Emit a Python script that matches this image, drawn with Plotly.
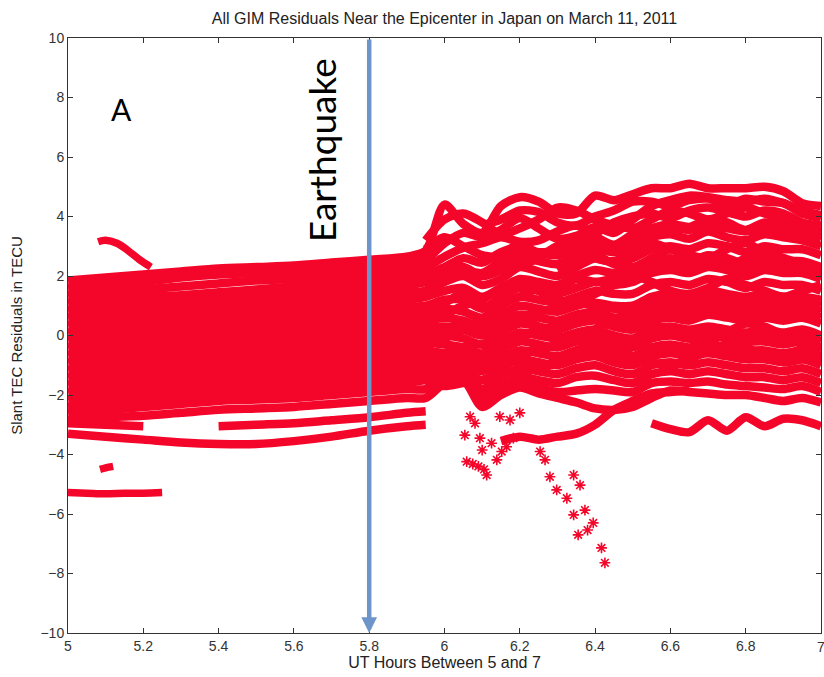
import plotly.graph_objects as go

# ---------------- data ----------------
hours = [5.0, 5.1, 5.2, 5.3, 5.4, 5.5, 5.6, 5.7, 5.8, 5.9,
         5.95, 6.0, 6.05, 6.1, 6.15, 6.2, 6.25, 6.3, 6.35, 6.4, 6.45,
         6.5, 6.55, 6.6, 6.65, 6.7, 6.75, 6.8, 6.85, 6.9, 6.95, 7.0]

N = None
trk01 = [1.85, 1.95, 2.05, 2.15, 2.25, 2.3, 2.35, 2.45, 2.55, 2.65,
         2.85, 4.4, 3.75, 3.45, 4.35, 4.65, 4.5, 4.1, 4.1, 4.7, 4.55, 4.75, 4.95, 4.95, 5.1, 4.95, 4.95, 4.95, 5.0, 4.85, 4.45, 4.35]
trk02 = [1.6, 1.7, 1.8, 1.95, 2.05, 2.1, 2.15, 2.25, 2.35, 2.45,
         2.55, 3.1, 3.45, 3.3, 3.55, 3.95, 3.6, 3.25, 3.35, 3.65, 3.45, 3.9, 4.35, 4.55, 4.7, 4.65, 4.55, 4.5, 4.6, 4.45, 4.2, 4.05]
trk03 = [1.35, 1.45, 1.55, 1.65, 1.75, 1.85, 1.9, 2.0, 2.1, 2.2,
         2.3, 2.65, 2.95, 3.1, 3.3, 3.15, 3.2, 3.5, 3.7, 3.45, 3.8, 4.0, 4.1, 3.95, 4.2, 4.3, 4.15, 4.0, 4.2, 4.1, 3.8, 3.7]
trk04 = [1.1, 1.2, 1.3, 1.35, 1.45, 1.55, 1.65, 1.75, 1.85, 1.95,
         2.05, 2.3, 2.6, 2.45, 2.8, 3.0, 2.8, 2.9, 3.2, 3.3, 3.05, 3.4, 3.6, 3.75, 3.65, 3.9, 3.8, 3.55, 3.8, 3.7, 3.5, 3.3]
trk05 = [0.85, 0.95, 1.1, 1.2, 1.25, 1.3, 1.4, 1.5, 1.6, 1.7,
         1.8, 2.1, 2.3, 2.0, 2.2, 2.6, 2.5, 2.4, 2.7, 2.9, 2.8, 3.0, 3.3, 3.4, 3.25, 3.5, 3.3, 3.2, 3.4, 3.3, 3.2, 3.0]
trk06 = [0.6, 0.75, 0.85, 0.95, 1.05, 1.1, 1.15, 1.25, 1.35, 1.45,
         1.5, 1.8, 2.0, 1.7, 1.9, 2.3, 2.15, 2.0, 2.3, 2.6, 2.45, 2.6, 2.9, 3.0, 2.9, 3.1, 3.0, 2.8, 3.0, 2.9, 2.9, 2.7]
trk07 = [0.35, 0.5, 0.6, 0.7, 0.8, 0.85, 0.9, 1.0, 1.1, 1.2,
         1.3, 1.5, 1.6, 1.3, 1.6, 1.9, 1.8, 1.7, 2.0, 2.2, 2.1, 2.2, 2.5, 2.6, 2.5, 2.7, 2.6, 2.4, 2.6, 2.5, 2.5, 2.3]
trk08 = [0.1, 0.25, 0.35, 0.45, 0.55, 0.6, 0.65, 0.75, 0.85, 0.95,
         1.0, 1.2, 1.2, 0.9, 1.3, 1.6, 1.5, 1.4, 1.6, 1.8, 1.7, 1.8, 2.1, 2.2, 2.1, 2.3, 2.2, 2.0, 2.2, 2.1, 2.1, 1.9]
trk09 = [-0.15, 0.0, 0.1, 0.2, 0.3, 0.35, 0.4, 0.5, 0.6, 0.7,
         0.75, 0.9, 0.8, 0.6, 1.0, 1.3, 1.2, 1.1, 1.3, 1.5, 1.4, 1.4, 1.7, 1.8, 1.7, 1.9, 1.8, 1.6, 1.8, 1.7, 1.7, 1.5]
trk10 = [-0.4, -0.25, -0.15, -0.05, 0.05, 0.1, 0.15, 0.25, 0.35, 0.45,
         0.5, 0.6, 0.5, 0.3, 0.7, 1.0, 0.9, 0.8, 1.0, 1.1, 1.0, 1.0, 1.3, 1.4, 1.3, 1.5, 1.4, 1.3, 1.4, 1.3, 1.3, 1.2]
trk11 = [-0.65, -0.5, -0.4, -0.3, -0.2, -0.15, -0.1, 0.0, 0.1, 0.2,
         0.25, 0.3, 0.2, 0.0, 0.4, 0.7, 0.6, 0.5, 0.7, 0.8, 0.6, 0.6, 0.9, 1.0, 0.9, 1.1, 1.0, 0.9, 1.0, 0.9, 1.0, 0.8]
trk12 = [-0.9, -0.75, -0.65, -0.55, -0.45, -0.4, -0.35, -0.25, -0.15, -0.05,
         0.0, 0.0, -0.1, -0.3, 0.1, 0.4, 0.3, 0.2, 0.4, 0.5, 0.3, 0.2, 0.5, 0.6, 0.5, 0.7, 0.6, 0.5, 0.6, 0.5, 0.6, 0.4]
trk13 = [-1.15, -1.0, -0.9, -0.8, -0.7, -0.65, -0.6, -0.5, -0.4, -0.3,
         -0.25, -0.3, -0.4, -0.6, -0.2, 0.1, 0.0, -0.1, 0.1, 0.2, 0.0, -0.1, 0.2, 0.3, 0.2, 0.3, 0.2, 0.1, 0.2, 0.1, 0.2, 0.0]
trk14 = [-1.4, -1.25, -1.15, -1.05, -0.95, -0.9, -0.85, -0.75, -0.65, -0.55,
         -0.5, -0.6, -0.7, -0.9, -0.5, -0.2, -0.3, -0.4, -0.2, -0.1, -0.3, -0.4, -0.1, 0.0, -0.1, 0.0, -0.1, -0.2, -0.2, -0.3, -0.2, -0.4]
trk15 = [-1.65, -1.5, -1.4, -1.3, -1.2, -1.15, -1.1, -1.0, -0.9, -0.8,
         -0.75, -0.9, -1.0, -1.2, -0.8, -0.5, -0.6, -0.7, -0.5, -0.4, -0.6, -0.7, -0.4, -0.3, -0.4, -0.3, -0.4, -0.5, -0.5, -0.6, -0.5, -0.7]
trk16 = [-1.9, -1.75, -1.65, -1.55, -1.45, -1.4, -1.35, -1.25, -1.15, -1.05,
         -1.0, -1.1, -1.2, -1.5, -1.1, -0.8, -0.9, -1.0, -0.8, -0.7, -0.9, -1.0, -0.7, -0.6, -0.7, -0.6, -0.7, -0.8, -0.8, -0.9, -0.8, -1.0]
trk17 = [-2.15, -2.0, -1.9, -1.8, -1.7, -1.65, -1.6, -1.5, -1.4, -1.3,
         -1.25, -1.2, -1.3, -1.8, -1.4, -1.1, -1.2, -1.3, -1.1, -1.0, -1.2, -1.3, -1.0, -0.9, -1.0, -0.9, -1.0, -1.1, -1.1, -1.2, -1.1, -1.3]
trk18 = [-2.4, -2.25, -2.15, -2.05, -1.95, -1.9, -1.85, -1.75, -1.65, -1.55,
         -1.5, -1.3, -1.4, -2.0, -1.7, -1.4, -1.5, -1.6, -1.4, -1.35, -1.5, -1.6, -1.3, -1.2, -1.3, -1.2, -1.3, -1.4, -1.4, -1.5, -1.4, -1.6]
trk19 = [-2.6, -2.5, -2.4, -2.3, -2.2, -2.15, -2.1, -2.0, -1.9, -1.8,
         -1.8, -1.4, -1.35, -2.2, -1.9, -1.6, -1.75, -1.9, -1.85, -1.8, -1.85, -1.9, -1.6, -1.55, -1.6, -1.55, -1.65, -1.7, -1.75, -1.8, -1.7, -1.9]
trk20 = [-2.85, -2.75, -2.7, -2.6, -2.5, -2.45, -2.4, -2.3, -2.2, -2.1,
         -2.1, -1.6, -1.5, -2.4, -2.0, -1.75, -1.95, -2.1, -2.25, -2.45, -2.5, -2.4, -2.1, -1.85, -1.9, -1.95, -2.0, -2.0, -2.1, -2.2, -2.1, -2.25]
trk21 = [-2.95, -3.0, -3.05, N, N, N, N, N, N, N,
         N, N, N, N, N, N, N, N, N, N, N, N, N, N, N, N, N, N, N, N, N, N]
trk22 = [N, N, N, N, -3.05, -3.0, -2.95, -2.85, -2.75, -2.6,
         -2.55, N, N, N, N, N, N, N, N, N, N, N, N, N, N, N, N, N, N, N, N, N]
trk23 = [-3.3, -3.4, -3.5, -3.6, -3.65, -3.65, -3.55, -3.4, -3.2, -3.05,
         -3.0, N, N, N, N, N, N, N, N, N, N, N, N, N, N, N, N, N, N, N, N, N]
trk24 = [N, N, N, N, N, N, N, N, N, N,
         N, N, N, 3.7, 3.9, 4.2, 4.15, 3.8, 3.7, 4.0, 4.2, 4.5, 4.5, 4.35, 4.55, 4.6, 4.4, 4.6, 4.5, 4.45, 4.1, 3.95]
trk25 = [N, N, N, N, N, N, N, N, N, N,
         N, N, N, N, -3.55, -3.4, -3.5, -3.4, -3.3, -3.0, -2.5, -2.2, -1.95, -1.9, -1.85, N, N, N, N, N, N, N]
trk26 = [N, N, N, N, N, N, N, N, N, N,
         N, N, N, N, N, N, N, N, N, N, N, N, -2.95, -3.15, -3.25, -2.85, -3.2, -2.75, -3.05, -2.8, -2.85, -3.05]
trk27 = [N, N, N, N, N, N, N, N, N, N,
         1.6, 2.0, 2.2, 2.1, 2.5, 2.8, 2.75, 2.7, 2.95, 3.1, 3.0, 3.2, 3.5, 3.6, 3.55, 3.7, 3.6, 3.5, 3.6, 3.5, 3.4, 3.25]
trk28 = [N, N, N, N, N, N, N, N, N, N,
         0.9, 1.1, 1.4, 1.0, 1.1, 1.3, 1.6, 1.6, 1.9, 1.8, 1.9, 2.0, 2.3, 2.4, 2.3, 2.5, 2.45, 2.2, 2.4, 2.3, 2.3, 2.1]
trk29 = [N, N, N, N, N, N, N, N, N, N,
         0.0, 0.2, 0.4, 0.1, 0.3, 0.5, 0.8, 0.9, 1.1, 1.0, 0.9, 0.8, 1.1, 1.2, 1.1, 1.3, 1.2, 1.1, 1.2, 1.1, 1.15, 1.0]
trk30 = [N, N, N, N, N, N, N, N, N, N,
         -0.8, -0.6, -0.5, -0.7, -0.4, -0.1, 0.2, 0.3, 0.6, 0.6, 0.4, 0.35, 0.7, 0.8, 0.7, 0.9, 0.8, 0.7, 0.8, 0.7, 0.8, 0.6]
trk31 = [N, N, N, N, N, N, N, N, N, N,
         -1.2, -1.0, -0.9, -1.0, -0.9, -0.6, -0.5, -0.3, -0.2, 0.0, -0.1, -0.2, 0.05, 0.15, 0.05, 0.15, 0.05, -0.05, 0.0, -0.1, 0.0, -0.2]
trk32 = [N, N, N, N, N, N, N, N, N, N,
         -1.6, -1.7, -1.6, -1.5, -1.3, -1.2, -1.1, -0.9, -0.6, -0.5, -0.7, -0.8, -0.5, -0.45, -0.55, -0.45, -0.55, -0.65, -0.65, -0.75, -0.65, -0.85]
trk33 = [N, N, N, N, N, N, N, N, N, N,
         2.9, 3.3, 3.0, 2.7, 2.6, 2.4, 2.6, 3.0, 2.9, 2.6, 2.5, 2.8, 3.1, 2.9, 2.7, 2.6, 2.9, 3.1, 2.8, 2.6, 2.4, 2.2]
trk34 = [N, N, N, N, N, N, N, N, N, N,
         0.4, 0.7, 1.0, 1.2, 1.6, 1.8, 1.5, 1.2, 1.1, 1.4, 1.7, 2.0, 1.8, 1.5, 1.4, 1.6, 1.9, 1.7, 1.5, 1.3, 1.5, 1.7]
trk35 = [N, N, N, N, N, N, N, N, N, N,
         -0.3, -0.1, 0.2, 0.5, 0.8, 0.6, 0.3, 0.0, -0.1, 0.2, 0.5, 0.7, 0.4, 0.1, -0.1, -0.2, 0.1, 0.4, 0.3, 0.0, -0.3, -0.5]
trk36 = [N, N, N, N, N, N, N, N, N, N,
         -1.0, -0.8, -0.4, -0.3, -0.6, -0.9, -1.1, -0.8, -0.5, -0.3, -0.4, -0.7, -0.9, -1.0, -0.8, -0.5, -0.3, -0.4, -0.7, -0.9, -0.8, -0.6]
trk37 = [N, N, N, N, N, N, N, N, N, N,
         3.2, 3.9, 4.1, 3.8, 3.4, 3.6, 3.9, 4.3, 4.2, 3.9, 3.7, 3.6, 3.9, 4.2, 4.1, 3.9, 4.1, 4.3, 4.1, 3.9, 3.6, 3.5]
trk38 = [N, N, N, N, N, N, N, N, N, N,
         N, N, N, N, N, N, N, 2.2, 2.5, 2.7, 2.4, 2.3, 2.6, 2.9, 2.7, 2.4, 2.3, 2.6, 2.8, 2.6, 2.3, 2.0]

# short separate tracks near the start
arc_x = [5.08, 5.1, 5.13, 5.16, 5.19, 5.22]
arc_y = [3.15, 3.2, 3.1, 2.85, 2.55, 2.3]
low1_x = [5.0, 5.05, 5.1, 5.15, 5.2, 5.25]
low1_y = [-5.28, -5.3, -5.32, -5.3, -5.3, -5.28]
low2_x = [5.085, 5.1, 5.12]
low2_y = [-4.5, -4.45, -4.4]

# scattered residuals after the earthquake
scat_x = [6.068, 6.081, 6.054, 6.094, 6.1, 6.125, 6.059, 6.075, 6.09, 6.105, 6.112,
          6.147, 6.174, 6.2, 6.152, 6.139, 6.165, 6.183,
          6.254, 6.267, 6.28, 6.298, 6.325, 6.343, 6.36, 6.343, 6.373, 6.395,
          6.355, 6.38, 6.417, 6.426]
scat_y = [-2.73, -2.95, -3.35, -3.45, -3.85, -3.62, -4.24, -4.32, -4.4, -4.5, -4.69,
          -2.73, -2.84, -2.6, -3.9, -4.18, -3.74, -3.45,
          -3.9, -4.18, -4.75, -5.19, -5.47, -4.69, -5.03, -6.03, -5.87, -6.3,
          -6.7, -6.54, -7.14, -7.64]

x_ticks = [5.0, 5.2, 5.4, 5.6, 5.8, 6.0, 6.2, 6.4, 6.6, 6.8, 7.0]
x_tick_text = ["5", "5.2", "5.4", "5.6", "5.8", "6", "6.2", "6.4", "6.6", "6.8", "7"]
y_ticks = [-10, -8, -6, -4, -2, 0, 2, 4, 6, 8, 10]
quake_hour = 5.8

# ---------------- figure ----------------
RED = "#f4062a"
tracks = [trk01, trk02, trk03, trk04, trk05, trk06, trk07, trk08, trk09, trk10,
          trk11, trk12, trk13, trk14, trk15, trk16, trk17, trk18, trk19, trk20,
          trk21, trk22, trk23, trk24, trk25, trk26, trk27, trk28, trk29, trk30,
          trk31, trk32, trk33, trk34, trk35, trk36, trk37, trk38]

fig = go.Figure()
for t in tracks:
    fig.add_trace(go.Scatter(x=hours, y=t, mode="lines",
                             line=dict(color=RED, width=8.5, shape="spline", smoothing=0.8),
                             connectgaps=False, hoverinfo="skip"))
for xs, ys in [(arc_x, arc_y), (low1_x, low1_y), (low2_x, low2_y)]:
    fig.add_trace(go.Scatter(x=xs, y=ys, mode="lines",
                             line=dict(color=RED, width=7.5, shape="spline"),
                             hoverinfo="skip"))
fig.add_trace(go.Scatter(x=scat_x, y=scat_y, mode="markers",
                         marker=dict(symbol="asterisk-open", size=9, color=RED,
                                     line=dict(color=RED, width=1.6)),
                         hoverinfo="skip"))

fig.add_annotation(x=quake_hour, y=-10, ax=quake_hour, ay=10, xref="x", yref="y",
                   axref="x", ayref="y", text="", showarrow=True,
                   arrowhead=2, arrowsize=0.7, arrowwidth=4.5, arrowcolor="#6e95c9")
fig.add_annotation(x=5.672, y=6.23, xref="x", yref="y", text="Earthquake",
                   textangle=-90, showarrow=False,
                   font=dict(family="Lato", size=37, color="black"))
fig.add_annotation(x=5.141, y=7.61, xref="x", yref="y", text="A", showarrow=False,
                   font=dict(family="Lato", size=30, color="black"))

axis_font = dict(family="Liberation Sans", size=14, color="#333333")
# last x tick label sits at the very edge of the page
fig.add_annotation(x=x_ticks[-1], y=0, xref="x", yref="paper", text=x_tick_text[-1],
                   showarrow=False, yanchor="top", yshift=-4, xanchor="center",
                   font=axis_font)
fig.update_layout(
    width=824, height=677,
    margin=dict(l=68, r=3, t=38, b=44),
    plot_bgcolor="white", paper_bgcolor="white",
    showlegend=False,
    title=dict(text="All GIM Residuals Near the Epicenter in Japan on March 11, 2011",
               x=0.5, xref="paper", xanchor="center",
               y=1 - 18 / 677, yref="container", yanchor="middle",
               font=dict(family="Liberation Sans", size=16, color="#222222")),
    font=axis_font,
)
fig.update_xaxes(range=[5, 7], tickvals=x_ticks, ticktext=x_tick_text,
                 ticks="inside", ticklen=5, tickcolor="#333333",
                 showline=True, linecolor="#333333", linewidth=1, mirror="ticks",
                 showgrid=False, zeroline=False, tickfont=axis_font,
                 title=dict(text="UT Hours Between 5 and 7", standoff=2,
                            font=dict(family="Liberation Sans", size=16, color="#222222")))
fig.update_yaxes(range=[-10, 10], tickvals=y_ticks,
                 ticks="inside", ticklen=5, tickcolor="#333333",
                 showline=True, linecolor="#333333", linewidth=1, mirror="ticks",
                 showgrid=False, zeroline=False, tickfont=axis_font,
                 title=dict(text="Slant TEC Residuals in TECU", standoff=14,
                            font=dict(family="Liberation Sans", size=15, color="#222222")))

fig.write_html("out.html")
